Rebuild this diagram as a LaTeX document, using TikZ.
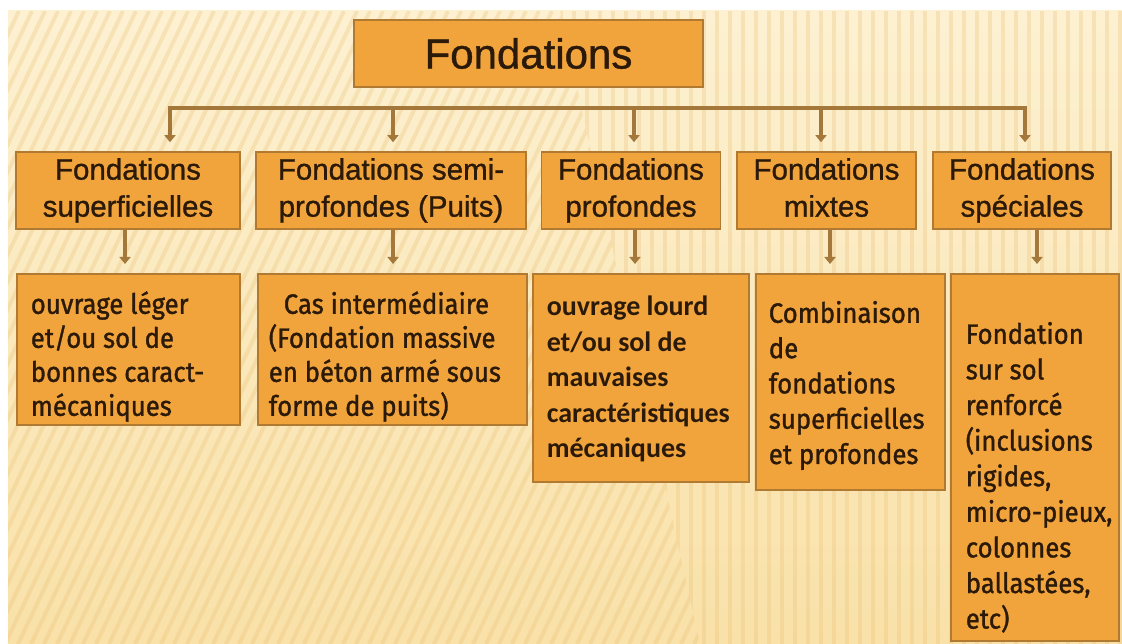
\documentclass[tikz,border=0pt]{standalone}
\usepackage{fontspec}
\setmainfont{Liberation Sans}
\newfontfamily\headfont[FakeBold=1]{Liberation Sans}
\newfontfamily\frankfont[FakeStretch=0.92,FakeBold=1.2]{Fira Sans}
\newfontfamily\calfont{Carlito}
\usetikzlibrary{arrows.meta}
\definecolor{bgtop}{HTML}{FDF1D2}
\definecolor{bgbot}{HTML}{F9E1A8}
\definecolor{stripe}{HTML}{E9BE72}
\definecolor{boxfill}{HTML}{F2A43C}
\definecolor{boxline}{HTML}{B07A32}
\definecolor{linkc}{HTML}{A3783A}
\definecolor{ink}{HTML}{2B1A0A}
% #1 height, #2 width, #3 first baseline, #4 baselineskip, #5 left pad, #6 text
\newcommand{\dtext}[6]{\parbox[c][#1][t]{#2}{\fontsize{28}{#4}\selectfont
  \leftskip=#5\relax\rightskip=0pt plus 1fil\relax\parindent=0pt
  \hyphenpenalty=10000\exhyphenpenalty=10000
  \rule{0pt}{#3}#6}}
\begin{document}
\begin{tikzpicture}[x=1pt,y=-1pt,
  rootbox/.style={draw=boxline, fill=boxfill, line width=1.6pt, inner sep=0pt,
    text=ink, font=\headfont\fontsize{42}{50}\selectfont},
  catbox/.style={draw=boxline, fill=boxfill, line width=1.6pt, inner sep=0pt,
    align=center, text=ink, minimum height=77pt, font=\headfont\fontsize{29.5}{37}\selectfont},
  descbox/.style={draw=boxline, fill=boxfill, line width=1.6pt, inner sep=0pt,
    anchor=north west, text=ink},
  link/.style={draw=linkc, line width=3.5pt},
  arr/.style={draw=linkc, line width=3.5pt, -{Triangle[width=11pt,length=7pt]}, shorten >=9pt},
  stripeline/.style={draw=stripe, line width=4pt, opacity=.28}
]
\useasboundingbox (0,0) rectangle (1122,644);
\fill[white] (0,0) rectangle (1122,644);
\shade[top color=bgtop, bottom color=bgbot] (8,11) rectangle (1122,644);
\begin{scope}
  \clip (8,11) -- (560,11) -- (700,644) -- (8,644) -- cycle;
  \foreach \i in {-320,-307,...,720} \draw[stripeline] (\i,644) -- (\i+300,11);
\end{scope}
\begin{scope}
  \clip (560,11) -- (1122,11) -- (1122,644) -- (700,644) -- cycle;
  \foreach \i in {548,561,...,1122} \draw[stripeline] (\i,11) -- (\i,644);
\end{scope}

% root
\node[rootbox, minimum width=349pt, minimum height=67pt] (root) at (528.5,53.5) {Fondations};

% categories
\node[catbox, minimum width=224pt] (c1) at (128,190.5) {Fondations\\superficielles};
\node[catbox, minimum width=270pt] (c2) at (391,190.5) {Fondations semi-\\profondes (Puits)};
\node[catbox, minimum width=179pt] (c3) at (631,190.5) {Fondations\\profondes};
\node[catbox, minimum width=179pt] (c4) at (826.5,190.5) {Fondations\\mixtes\vphantom{p}};
\node[catbox, minimum width=178pt] (c5) at (1022,190.5) {Fondations\\spéciales};

% descriptions
\node[descbox] (d1) at (16,273) {\dtext{151pt}{223pt}{40pt}{34pt}{14pt}{\frankfont ouvrage léger\\et/ou sol de\\bonnes caract-\\mécaniques}};
\node[descbox] (d2) at (257,273) {\dtext{151pt}{269pt}{40pt}{34pt}{11pt}{\frankfont\hspace*{15pt}Cas intermédiaire\\(Fondation massive\\en béton armé sous\\forme de puits)}};
\node[descbox] (d3) at (532,273) {\dtext{208pt}{216pt}{42pt}{35.5pt}{14pt}{\calfont\bfseries ouvrage lourd\\et/ou sol de\\mauvaises\\caractéristiques\\mécaniques}};
\node[descbox] (d4) at (755,273) {\dtext{216pt}{189pt}{49pt}{35.3pt}{13pt}{\frankfont Combinaison\\de\\fondations\\superficielles\\et profondes}};
\node[descbox] (d5) at (950,273) {\dtext{367pt}{168pt}{70pt}{35.6pt}{15pt}{\frankfont Fondation\\sur sol\\renforcé\\(inclusions\\rigides,\\micro-pieux,\\colonnes\\ballastées,\\etc)}};

% bar and arrows
\coordinate (j1) at (170,108);
\coordinate (j2) at (393,108);
\coordinate (j3) at (634,108);
\coordinate (j4) at (821,108);
\coordinate (j5) at (1025,108);
\draw[link, line cap=rect] (j1) -- (j5);
\draw[arr] (j1) -- (j1 |- c1.north);
\draw[arr] (j2) -- (j2 |- c2.north);
\draw[arr] (j3) -- (j3 |- c3.north);
\draw[arr] (j4) -- (j4 |- c4.north);
\draw[arr] (j5) -- (j5 |- c5.north);

\coordinate (k1) at (125,0);
\coordinate (k2) at (393,0);
\coordinate (k3) at (635,0);
\coordinate (k4) at (830,0);
\coordinate (k5) at (1037,0);
\draw[arr] (c1.south -| k1) -- (d1.north -| k1);
\draw[arr] (c2.south -| k2) -- (d2.north -| k2);
\draw[arr] (c3.south -| k3) -- (d3.north -| k3);
\draw[arr] (c4.south -| k4) -- (d4.north -| k4);
\draw[arr] (c5.south -| k5) -- (d5.north -| k5);
\end{tikzpicture}
\end{document}
